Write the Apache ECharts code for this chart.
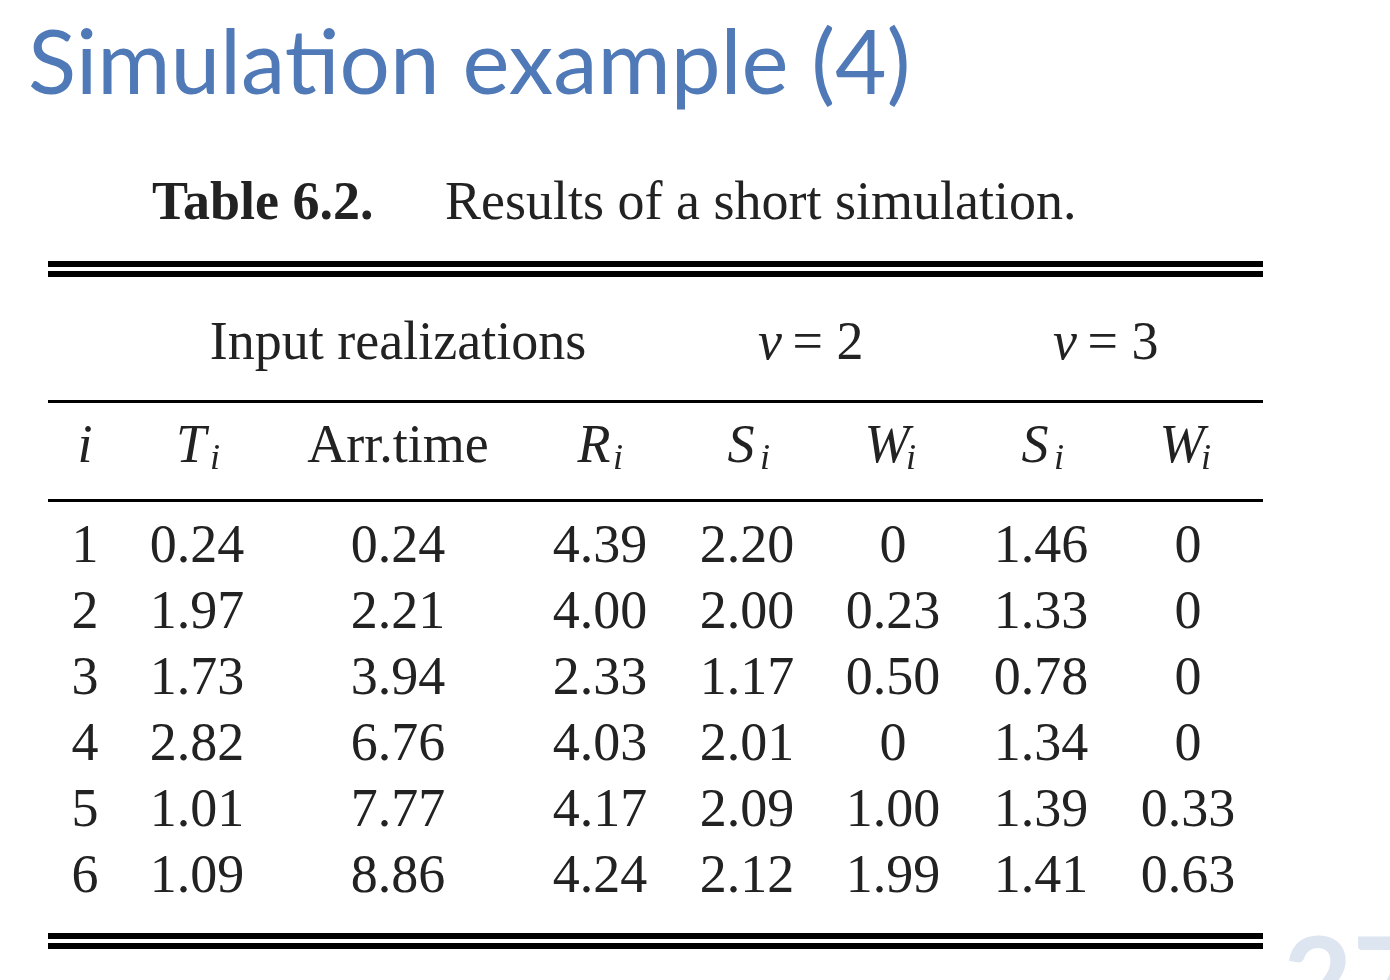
<!DOCTYPE html>
<html><head><meta charset="utf-8">
<script src="https://cdn.jsdelivr.net/npm/echarts@6/dist/echarts.min.js"></script>
<style>html,body{margin:0;padding:0;background:#fff}#c{width:1390px;height:980px}</style>
</head><body><div id="c"></div>
<script>
const title = 'Simulation example (4)';
const caption = ['Table 6.2.', 'Results of a short simulation.'];
const groupHeaders = ['Input realizations', 'v = 2', 'v = 3'];
const colHeaders = [['i',''], ['T','i'], ['Arr.time',''], ['R','i'], ['S','i'], ['W','i'], ['S','i'], ['W','i']];
const idx = ['1','2','3','4','5','6'];
const T = ['0.24','1.97','1.73','2.82','1.01','1.09'];
const arr = ['0.24','2.21','3.94','6.76','7.77','8.86'];
const R = ['4.39','4.00','2.33','4.03','4.17','4.24'];
const S2 = ['2.20','2.00','1.17','2.01','2.09','2.12'];
const W2 = ['0','0.23','0.50','0','1.00','1.99'];
const S3 = ['1.46','1.33','0.78','1.34','1.39','1.41'];
const W3 = ['0','0','0','0','0.33','0.63'];

const colX = [85, 197, 398, 600, 747, 893, 1041, 1188];
const rowY = [548, 614, 680, 746, 812, 878];
const serif = '"Liberation Serif", "DejaVu Serif", serif';
const ink = '#222';
const cols = [idx, T, arr, R, S2, W2, S3, W3];
const g = [];
function txt(x, y, s, size, opt) {
  g.push({type:'text', x, y, style:Object.assign({text:s, fill:ink, font:size+'px '+serif, align:'center', verticalAlign:'middle'}, opt||{})});
}
function rule(y, h) { g.push({type:'rect', shape:{x:48, y:y, width:1215, height:h}, style:{fill:'#000'}}); }

g.push({type:'text', x:28, y:65, style:{text:title, fill:'#5079b7', font:'89px Lato, "Open Sans", sans-serif', verticalAlign:'middle', align:'left'}});
g.push({type:'text', x:1283, y:985, style:{text:'27', fill:'#dde5f1', font:'bold 120px Lato, sans-serif', verticalAlign:'middle', align:'left'}});
txt(152, 205, caption[0], 54, {align:'left', font:'bold 54px '+serif});
txt(445, 205, caption[1], 54, {align:'left', font:'54px '+serif});
rule(261, 6); rule(271, 6); rule(400, 3); rule(499, 3); rule(933, 6); rule(943, 6);

txt(398, 345, groupHeaders[0], 54);
[820, 1115].forEach((x, k) => {
  txt(x - 50, 345, 'v', 54, {font:'italic 54px '+serif});
  txt(x + 8, 345, '= ' + groupHeaders[k+1].split('= ')[1], 54);
});
colHeaders.forEach((h, k) => {
  const italic = h[1] !== '' || h[0] === 'i';
  if (h[1]) {
    txt(colX[k] - 6, 448, h[0], 54, {font:'italic 54px '+serif});
    txt(colX[k] + 18, 460, h[1], 36, {font:'italic 36px '+serif});
  } else {
    txt(colX[k], 448, h[0], 54, {font:(italic?'italic ':'')+'54px '+serif});
  }
});
cols.forEach((c, k) => c.forEach((v, r) => txt(colX[k], rowY[r], v, 54)));

const chart = echarts.init(document.getElementById('c'));
chart.setOption({backgroundColor:'#fff', graphic:g});
</script></body></html>
